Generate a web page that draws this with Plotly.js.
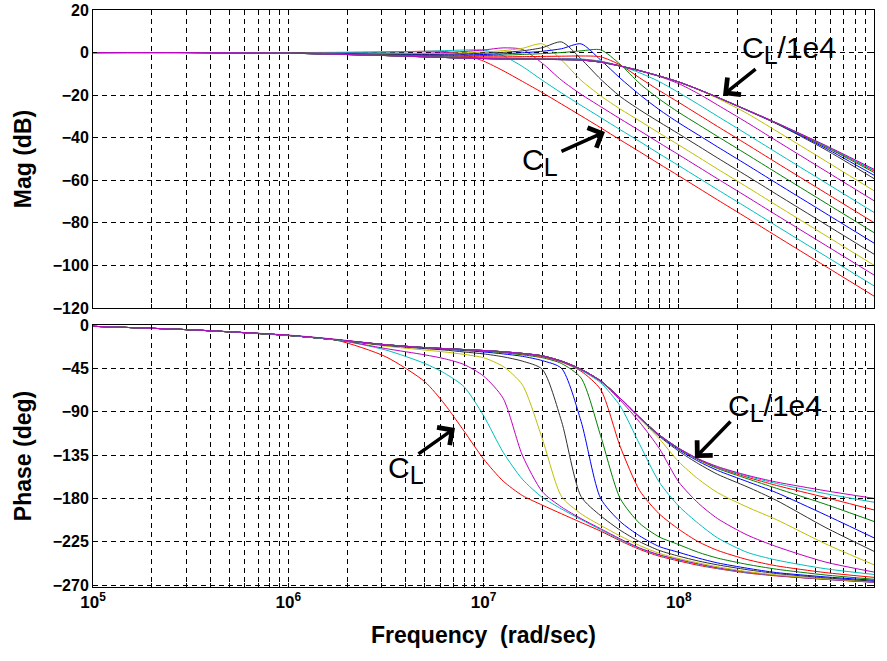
<!DOCTYPE html>
<html>
<head>
<meta charset="utf-8">
<script src="https://cdn.plot.ly/plotly-3.0.1.min.js"></script>
<style>html,body{margin:0;padding:0;background:#fff;}#chart{width:887px;height:661px;}</style>
</head>
<body>
<div id="chart"></div>
<script>
// Frequency samples (rad/sec)
const freq = [1e5, 3.16e5, 1e6, 1.78e6, 3.16e6, 5.01e6, 6.31e6, 7.94e6, 1e7, 1.26e7, 1.58e7, 2e7, 2.51e7, 3.16e7, 3.98e7, 5.01e7, 6.31e7, 7.94e7, 1e8, 1.26e8, 1.58e8, 2.24e8, 3.16e8, 5.62e8, 1e9];

// Load capacitance sweep: C_L, C_L/10^0.25, ... , C_L/1e4
const curveNames = ['C_L', 'C_L/10^0.25', 'C_L/10^0.5', 'C_L/10^0.75', 'C_L/10', 'C_L/10^1.25', 'C_L/10^1.5', 'C_L/10^1.75', 'C_L/100', 'C_L/10^2.25', 'C_L/10^2.5', 'C_L/10^2.75', 'C_L/1e3', 'C_L/10^3.25', 'C_L/10^3.5', 'C_L/10^3.75', 'C_L/1e4'];

// Magnitude (dB)
const mag0  = [0, 0, 0, 0.1, 0.3, 0.6, 0.5, -1.0, -4.0, -8.5, -13.5, -18.8, -24.2, -29.7, -35.3, -41, -46.6, -52.3, -57.9, -63.6, -69.2, -77.7, -86.2, -100.3, -114.4];
const mag1  = [0, 0, -0.1, 0, 0.2, 0.6, 0.9, 1.2, 1.2, -1.5, -6.5, -13.0, -19.0, -24.8, -30.5, -36.2, -41.8, -47.5, -53.1, -58.8, -64.4, -72.9, -81.4, -95.5, -109.6];
const mag2  = [0, 0, -0.2, -0.3, -0.4, -0.3, 0, 0.5, 1.2, 2.2, 1.5, -5, -13, -19.6, -25.4, -31.1, -36.7, -42.4, -48, -53.7, -59.3, -67.8, -76.3, -90.4, -104.5];
const mag3  = [0, 0, -0.3, -0.4, -0.6, -0.6, -0.4, -0.1, 0.3, 0.9, 2.0, 4.1, -3.5, -13, -20.3, -26.5, -32.1, -37.8, -43.4, -49.1, -54.7, -63.2, -71.7, -85.8, -99.9];
const mag4  = [0, 0, -0.3, -0.5, -0.8, -0.9, -0.8, -0.6, -0.3, 0.1, 0.8, 2.3, 5.0, -3.0, -12.5, -20.6, -26.9, -32.6, -38.2, -43.9, -49.5, -58, -66.5, -80.6, -94.7];
const mag5  = [0, 0, -0.3, -0.6, -1.0, -1.2, -1.2, -1.1, -0.9, -0.6, -0.1, 0.6, 1.8, 4.1, -3.5, -12, -19.8, -26.8, -33, -38.7, -44.3, -52.8, -61.3, -75.4, -89.5];
const mag6  = [0, 0, -0.3, -0.6, -1.1, -1.4, -1.5, -1.5, -1.4, -1.2, -0.9, -0.5, 0, 0.8, 1.3, -5.5, -14.5, -21.8, -28.1, -33.8, -39.4, -47.9, -56.4, -70.5, -84.6];
const mag7  = [0, 0, -0.3, -0.7, -1.2, -1.6, -1.8, -1.9, -2.0, -2.0, -1.9, -1.8, -1.7, -1.6, -2.0, -5.8, -11.9, -17.8, -23.4, -29.1, -34.7, -43.2, -51.7, -65.8, -79.9];
const mag8  = [0, 0, -0.3, -0.8, -1.3, -1.8, -2.0, -2.2, -2.4, -2.5, -2.6, -2.7, -2.8, -3.0, -4.0, -6.3, -9.5, -13.6, -18.8, -24.3, -29.9, -38.4, -46.9, -61, -75.1];
const mag9  = [0, 0, -0.3, -0.8, -1.4, -1.9, -2.2, -2.4, -2.6, -2.7, -2.8, -2.9, -3.0, -3.2, -4.2, -6.3, -8.6, -11.2, -14.6, -19.3, -24.6, -32.9, -41.4, -55.5, -69.6];
const mag10 = [0, 0, -0.3, -0.8, -1.4, -2.0, -2.3, -2.5, -2.7, -2.9, -3.0, -3.1, -3.2, -3.4, -4.4, -6.3, -8.5, -11.1, -13.9, -17.5, -21.5, -28.6, -36.8, -50.8, -64.9];
const mag11 = [0, 0, -0.3, -0.8, -1.4, -2.0, -2.3, -2.6, -2.8, -3.0, -3.1, -3.2, -3.3, -3.5, -4.5, -6.3, -8.5, -11, -13.8, -17.3, -21.1, -27.2, -33.4, -45.5, -59.2];
const mag12 = [0, 0, -0.3, -0.8, -1.4, -2.0, -2.3, -2.6, -2.8, -3.0, -3.1, -3.2, -3.3, -3.5, -4.5, -6.3, -8.5, -11, -13.8, -17.3, -21, -27.1, -33.2, -44.8, -57.6];
const mag13 = [0, 0, -0.3, -0.8, -1.4, -2.0, -2.3, -2.6, -2.8, -3.0, -3.1, -3.2, -3.3, -3.5, -4.5, -6.3, -8.5, -11, -13.8, -17.3, -21, -27, -33.1, -44.2, -56.3];
const mag14 = [0, 0, -0.3, -0.8, -1.4, -2.0, -2.3, -2.6, -2.8, -3.0, -3.1, -3.2, -3.3, -3.5, -4.5, -6.3, -8.5, -11, -13.8, -17.3, -21, -27, -33, -43.9, -55.6];
const mag15 = [0, 0, -0.3, -0.8, -1.4, -2.0, -2.3, -2.6, -2.8, -3.0, -3.1, -3.2, -3.3, -3.5, -4.5, -6.3, -8.5, -11, -13.8, -17.3, -21, -27, -33, -43.7, -55.3];
const mag16 = [0, 0, -0.3, -0.8, -1.4, -2.0, -2.3, -2.6, -2.8, -3.0, -3.1, -3.2, -3.3, -3.5, -4.5, -6.3, -8.5, -11, -13.8, -17.3, -21, -27, -33, -43.5, -54.8];

// Phase (deg)
const phase0  = [-1.4, -5, -11, -16, -33, -59, -82, -110, -139, -162, -177, -187, -196, -205, -214, -224, -233, -240, -245, -249.5, -253, -257.5, -260.5, -264, -267];
const phase1  = [-1.4, -5, -10.8, -15.5, -26, -40, -50, -64, -94, -132, -160, -179, -191, -202, -212.5, -223, -232, -239, -244, -248.5, -252.5, -257, -260, -264, -267];
const phase2  = [-1.4, -5, -10.8, -15.5, -24.5, -31, -35, -41, -53, -76, -135, -173, -189, -201, -211.5, -222, -231.5, -238.5, -243.5, -248, -252, -256.5, -260, -264, -267];
const phase3  = [-1.4, -5, -10.8, -15.5, -22, -26, -28, -30.5, -34, -43, -62, -118, -178, -196, -208, -219, -229, -237, -242.5, -247, -251, -256, -259.5, -263.5, -266.5];
const phase4  = [-1.4, -5, -10.8, -15.5, -21, -24.5, -26, -28, -30, -33, -37.5, -46, -100, -178, -198, -213, -225, -234, -240, -245, -249, -254, -258, -262.5, -266];
const phase5  = [-1.4, -5, -10.8, -15.5, -21, -24, -25, -26.5, -28, -30, -32.5, -37, -45, -100, -180, -204, -219, -230, -236, -242, -247, -252.5, -257, -261.5, -265];
const phase6  = [-1.4, -5, -10.8, -15.5, -20.8, -23.8, -24.8, -26, -27.2, -28.8, -31, -34, -40, -55, -115, -180, -206, -220, -228, -236, -242, -248.5, -253.5, -259.5, -264];
const phase7  = [-1.4, -5, -10.8, -15.5, -20.6, -23.6, -24.6, -25.7, -26.8, -28.2, -30.2, -33, -38.5, -48, -67, -126, -172, -196, -212, -225, -234, -243.5, -250, -257, -262];
const phase8  = [-1.4, -5, -10.8, -15.5, -20.5, -23.5, -24.5, -25.5, -26.6, -28, -29.8, -32.4, -38, -47, -60, -84, -124, -163, -188, -206, -221, -236, -244, -253, -259];
const phase9  = [-1.4, -5, -10.8, -15.5, -20.5, -23.5, -24.5, -25.5, -26.5, -27.8, -29.6, -32.2, -37.7, -46.3, -58.7, -78, -101, -128, -163, -185, -201, -218, -230, -246, -256.5];
const phase10 = [-1.4, -5, -10.8, -15.5, -20.5, -23.5, -24.5, -25.5, -26.5, -27.8, -29.5, -32, -37.5, -46, -58.3, -76.5, -97.5, -118, -142, -160, -174, -189, -202, -227, -249];
const phase11 = [-1.4, -5, -10.8, -15.5, -20.5, -23.5, -24.5, -25.5, -26.5, -27.8, -29.5, -32, -37.5, -46, -58, -76, -96.5, -115.5, -131, -144, -155, -168, -182, -210, -235];
const phase12 = [-1.4, -5, -10.8, -15.5, -20.5, -23.5, -24.5, -25.5, -26.5, -27.8, -29.5, -32, -37.5, -46, -58, -76, -96, -114.5, -129.5, -141.5, -151, -162.5, -174, -197, -221];
const phase13 = [-1.4, -5, -10.8, -15.5, -20.5, -23.5, -24.5, -25.5, -26.5, -27.8, -29.5, -32, -37.5, -46, -58, -76, -96, -114, -128.5, -140, -149, -159.5, -169.5, -186, -204];
const phase14 = [-1.4, -5, -10.8, -15.5, -20.5, -23.5, -24.5, -25.5, -26.5, -27.8, -29.5, -32, -37.5, -46, -58, -76, -96, -114, -128, -139.5, -148, -158, -166.5, -179, -192];
const phase15 = [-1.4, -5, -10.8, -15.5, -20.5, -23.5, -24.5, -25.5, -26.5, -27.8, -29.5, -32, -37.5, -46, -58, -76, -96, -114, -128, -139, -147.5, -156.8, -164.5, -175, -184];
const phase16 = [-1.4, -5, -10.5, -15, -20.5, -23.5, -24.5, -25.5, -26.5, -27.8, -29.5, -32, -37.5, -46, -58, -76, -96, -114, -128, -139, -147, -156, -163, -172, -180];

// Axis ticks
const freqTicks = [1e5,2e5,3e5,4e5,5e5,6e5,7e5,8e5,9e5,1e6,2e6,3e6,4e6,5e6,6e6,7e6,8e6,9e6,1e7,2e7,3e7,4e7,5e7,6e7,7e7,8e7,9e7,1e8,2e8,3e8,4e8,5e8,6e8,7e8,8e8,9e8,1e9];
const freqTickText = ['10<sup>5</sup>','','','','','','','','','10<sup>6</sup>','','','','','','','','','10<sup>7</sup>','','','','','','','','','10<sup>8</sup>','','','','','','','','','10<sup>9</sup>'];
const magTicks = [20, 0, -20, -40, -60, -80, -100, -120];
const phaseTicks = [0, -45, -90, -135, -180, -225, -270];

const magSeries = [mag0, mag1, mag2, mag3, mag4, mag5, mag6, mag7, mag8, mag9, mag10, mag11, mag12, mag13, mag14, mag15, mag16];
const phaseSeries = [phase0, phase1, phase2, phase3, phase4, phase5, phase6, phase7, phase8, phase9, phase10, phase11, phase12, phase13, phase14, phase15, phase16];

// styles (MATLAB colour order starting at red)
const colorCycle = ['#ff0000', '#00bfbf', '#bf00bf', '#bfbf00', '#303030', '#0000ff', '#008000'];
const FONT = 'Liberation Sans, Arial, sans-serif';

const traces = [];
magSeries.forEach((m, k) => traces.push({
  x: freq, y: m, xaxis: 'x', yaxis: 'y', type: 'scatter', mode: 'lines', name: curveNames[k],
  line: {color: colorCycle[k % 7], width: 1, shape: 'spline', smoothing: 0.7}, hoverinfo: 'skip'
}));
phaseSeries.forEach((p, k) => traces.push({
  x: freq, y: p, xaxis: 'x2', yaxis: 'y2', type: 'scatter', mode: 'lines', name: curveNames[k],
  line: {color: colorCycle[k % 7], width: 1, shape: 'spline', smoothing: 0.7}, hoverinfo: 'skip'
}));

const gridStyle = {showgrid: true, gridcolor: '#000', gridwidth: 1, griddash: '5px,4px', zeroline: false,
  showline: true, linecolor: '#000', linewidth: 1, mirror: 'ticks', ticks: 'inside', ticklen: 4, tickcolor: '#000'};

const xCommon = Object.assign({}, gridStyle, {type: 'log', range: [5, 9], tickmode: 'array', tickvals: freqTicks, ticktext: freqTickText,
  tickfont: {family: FONT, size: 17, weight: 'bold', color: '#000'}});

const annFont = {family: FONT, size: 30, color: '#000'};
const CL = 'C<sub><span style="font-size:25px">L</span></sub>';
const layout = {
  width: 887, height: 661,
  margin: {l: 93, r: 13, t: 10, b: 74},
  paper_bgcolor: '#fff', plot_bgcolor: '#fff',
  showlegend: false, hovermode: false,
  font: {family: FONT, color: '#000'},
  xaxis: Object.assign({}, xCommon, {domain: [0, 1], anchor: 'y', showticklabels: false}),
  xaxis2: Object.assign({}, xCommon, {domain: [0, 1], anchor: 'y2',
    title: {text: 'Frequency  (rad/sec)', font: {family: FONT, size: 23, weight: 'bold', color: '#000'}, standoff: 15}}),
  yaxis: Object.assign({}, gridStyle, {domain: [0.4835, 1], range: [-120, 20], tickmode: 'array', tickvals: magTicks,
    tickfont: {family: FONT, size: 16, weight: 'bold', color: '#000'},
    title: {text: 'Mag (dB)', font: {family: FONT, size: 23, weight: 'bold', color: '#000'}, standoff: 14}}),
  yaxis2: Object.assign({}, gridStyle, {domain: [0, 0.4541], range: [-272, 0], tickmode: 'array', tickvals: phaseTicks,
    tickfont: {family: FONT, size: 16, weight: 'bold', color: '#000'},
    title: {text: 'Phase (deg)', font: {family: FONT, size: 23, weight: 'bold', color: '#000'}, standoff: 14}}),
  annotations: [
    {xref: 'x', yref: 'y', x: 8.314, y: 1.2, text: CL + '/1e4', showarrow: false, xanchor: 'left', yanchor: 'middle', font: annFont},
    {xref: 'x', yref: 'y', x: 8.227, y: -19.9, ax: 34, ay: -27, text: '', showarrow: true, arrowhead: 4, arrowsize: 1.2, arrowwidth: 3.5, arrowcolor: '#000', standoff: 0},
    {xref: 'x', yref: 'y', x: 7.187, y: -51.4, text: CL, showarrow: false, xanchor: 'left', yanchor: 'middle', font: annFont},
    {xref: 'x', yref: 'y', x: 7.622, y: -37.3, ax: -45, ay: 20, text: '', showarrow: true, arrowhead: 4, arrowsize: 1.2, arrowwidth: 3.5, arrowcolor: '#000', standoff: 0},
    {xref: 'x2', yref: 'y2', x: 8.242, y: -86.2, text: CL + '/1e4', showarrow: false, xanchor: 'left', yanchor: 'middle', font: annFont},
    {xref: 'x2', yref: 'y2', x: 8.083, y: -138.1, ax: 37, ay: -38, text: '', showarrow: true, arrowhead: 4, arrowsize: 1.2, arrowwidth: 3.5, arrowcolor: '#000', standoff: 0},
    {xref: 'x2', yref: 'y2', x: 6.5, y: -150.5, text: CL, showarrow: false, xanchor: 'left', yanchor: 'middle', font: annFont},
    {xref: 'x2', yref: 'y2', x: 6.854, y: -106.9, ax: -38, ay: 27, text: '', showarrow: true, arrowhead: 4, arrowsize: 1.2, arrowwidth: 3.5, arrowcolor: '#000', standoff: 0}
  ]
};

Plotly.newPlot('chart', traces, layout, {displayModeBar: false, staticPlot: true});
</script>
</body>
</html>
